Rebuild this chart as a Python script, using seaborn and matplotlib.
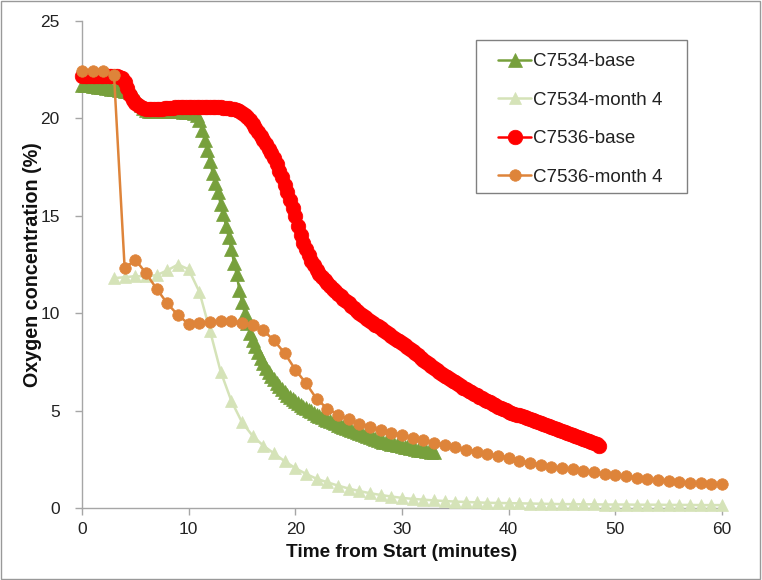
import numpy as np
import seaborn as sns
import matplotlib.pyplot as plt
from matplotlib.patches import Rectangle

# base runs logged every 15 s, month-4 runs every minute
step_fast = 0.25

c7534_base = [
    21.7, 21.7, 21.7, 21.7,
    21.65, 21.65, 21.6, 21.6,
    21.6, 21.55, 21.55, 21.5,
    21.5, 21.5, 21.45, 21.45,
    21.4, 21.4, 21.35, 21.3,
    21.1, 20.9, 20.7, 20.55,
    20.45, 20.4, 20.4, 20.4,
    20.4, 20.4, 20.4, 20.4,
    20.4, 20.4, 20.4, 20.4,
    20.4, 20.4, 20.35, 20.35,
    20.35, 20.35, 20.3, 20.2,
    19.9, 19.4, 18.9, 18.4,
    17.8, 17.2, 16.7, 16.2,
    15.6, 15.1, 14.5, 13.9,
    13.3, 12.6, 12.0, 11.2,
    10.6, 10.0, 9.5, 9.0,
    8.6, 8.3, 8.0, 7.7,
    7.45, 7.2, 7.0, 6.8,
    6.6, 6.4, 6.25, 6.1,
    5.95, 5.8, 5.7, 5.6,
    5.5, 5.4, 5.3, 5.2,
    5.12, 5.04, 4.96, 4.88,
    4.8, 4.73, 4.66, 4.59,
    4.52, 4.46, 4.4, 4.34,
    4.28, 4.22, 4.16, 4.1,
    4.05, 4.0, 3.95, 3.9,
    3.85, 3.8, 3.75, 3.7,
    3.64, 3.6, 3.55, 3.5,
    3.45, 3.41, 3.37, 3.33,
    3.3, 3.27, 3.24, 3.21,
    3.18, 3.15, 3.12, 3.09,
    3.06, 3.03, 3.0, 2.98,
    2.96, 2.94, 2.92, 2.9,
    2.88,
]

c7536_base = [
    22.2, 22.2, 22.2, 22.2,
    22.2, 22.2, 22.2, 22.2,
    22.2, 22.2, 22.2, 22.2,
    22.2, 22.2, 22.15, 22.05,
    21.85, 21.55, 21.2, 20.95,
    20.8, 20.7, 20.6, 20.55,
    20.5, 20.5, 20.5, 20.5,
    20.5, 20.5, 20.5, 20.55,
    20.55, 20.55, 20.55, 20.6,
    20.6, 20.6, 20.6, 20.6,
    20.6, 20.6, 20.6, 20.6,
    20.6, 20.6, 20.6, 20.6,
    20.6, 20.6, 20.6, 20.6,
    20.6, 20.55, 20.55, 20.55,
    20.5, 20.5, 20.45, 20.4,
    20.3, 20.2, 20.05, 19.9,
    19.7, 19.5, 19.3, 19.1,
    18.9, 18.7, 18.45, 18.2,
    17.95, 17.65, 17.3, 17.0,
    16.6, 16.2, 15.8, 15.4,
    15.0, 14.5, 14.0, 13.6,
    13.3, 13.0, 12.7, 12.45,
    12.2, 12.0, 11.85, 11.7,
    11.55, 11.4, 11.25, 11.12,
    11.0, 10.88, 10.75, 10.62,
    10.5, 10.38, 10.25, 10.12,
    10.0, 9.9, 9.8, 9.7,
    9.6, 9.5, 9.42, 9.34,
    9.25, 9.15, 9.05, 8.95,
    8.85, 8.75, 8.65, 8.55,
    8.45, 8.35, 8.25, 8.15,
    8.05, 7.94, 7.83, 7.72,
    7.6, 7.5, 7.4, 7.3,
    7.2, 7.1, 7.0, 6.9,
    6.8, 6.71, 6.62, 6.53,
    6.45, 6.36, 6.27, 6.18,
    6.1, 6.02, 5.95, 5.87,
    5.8, 5.72, 5.65, 5.57,
    5.5, 5.42, 5.35, 5.27,
    5.2, 5.14, 5.08, 5.01,
    4.95, 4.9, 4.85, 4.8,
    4.75, 4.7, 4.65, 4.6,
    4.55, 4.5, 4.45, 4.4,
    4.35, 4.3, 4.25, 4.2,
    4.15, 4.1, 4.05, 4.0,
    3.95, 3.9, 3.85, 3.8,
    3.75, 3.7, 3.65, 3.6,
    3.55, 3.5, 3.45, 3.4,
    3.35, 3.28, 3.2,
]

# month 4 of C7534 starts at minute 3
c7534_m4_start = 3
c7534_m4 = [
    11.8, 11.85, 11.9, 11.9, 11.95, 12.2, 12.5, 12.25, 11.1, 9.1,
    7.0, 5.5, 4.4, 3.7, 3.2, 2.8, 2.4, 2.05, 1.75, 1.5,
    1.32, 1.15, 1.0, 0.87, 0.76, 0.67, 0.59, 0.52, 0.47, 0.43,
    0.39, 0.36, 0.33, 0.31, 0.29, 0.27, 0.26, 0.25, 0.24, 0.23,
    0.22, 0.21, 0.2, 0.2, 0.19, 0.19, 0.18, 0.18, 0.18, 0.17,
    0.17, 0.17, 0.16, 0.16, 0.16, 0.15, 0.15, 0.15,
]

c7536_m4 = [
    22.45, 22.45, 22.45, 22.25, 12.3, 12.75, 12.05, 11.25, 10.5, 9.9,
    9.45, 9.5, 9.55, 9.6, 9.58, 9.5, 9.38, 9.12, 8.6, 7.95,
    7.1, 6.4, 5.6, 5.1, 4.8, 4.55, 4.33, 4.15, 3.99, 3.84,
    3.73, 3.6, 3.48, 3.36, 3.24, 3.12, 3.0, 2.9, 2.78, 2.67,
    2.56, 2.43, 2.32, 2.22, 2.13, 2.05, 1.98, 1.92, 1.84, 1.76,
    1.69, 1.62, 1.56, 1.5, 1.45, 1.4, 1.35, 1.3, 1.27, 1.24,
    1.21,
]

t_7534_base = np.arange(len(c7534_base)) * step_fast
t_7536_base = np.arange(len(c7536_base)) * step_fast
t_7534_m4 = np.arange(len(c7534_m4)) + c7534_m4_start
t_7536_m4 = np.arange(len(c7536_m4))

sns.set_style('white')
plt.rcParams['font.family'] = ['Liberation Sans', 'DejaVu Sans']

fig = plt.figure(figsize=(7.62, 5.8), dpi=100)
ax = fig.add_axes([0.1076, 0.1241, 0.84, 0.8397])

series = [
    (t_7534_base, c7534_base, 'C7534-base', '#77A03C', '^', 9.5),
    (t_7534_m4, c7534_m4, 'C7534-month 4', '#D5E3B8', '^', 8.0),
    (t_7536_base, c7536_base, 'C7536-base', '#FF0000', 'o', 10.5),
    (t_7536_m4, c7536_m4, 'C7536-month 4', '#DE843A', 'o', 8.3),
]
for i, (t, v, name, c, m, ms) in enumerate(series):
    sns.lineplot(x=t, y=v, ax=ax, color=c, marker=m, markersize=ms,
                 markeredgecolor=c, markeredgewidth=0.5, linewidth=1.8,
                 label=name, errorbar=None, clip_on=False, zorder=3 + i)

ax.set_xlim(0, 60)
ax.set_ylim(0, 25)
ax.set_xticks(range(0, 61, 10))
ax.set_yticks(range(0, 26, 5))
for s in ['top', 'right']:
    ax.spines[s].set_visible(False)
for s in ['left', 'bottom']:
    ax.spines[s].set_color('#A6A6A6')
    ax.spines[s].set_linewidth(1.0)
ax.tick_params(axis='both', bottom=True, left=True, direction='out',
               length=5, width=1, color='#A6A6A6', labelsize=12.5,
               labelcolor='#222222')
ax.tick_params(axis='x', pad=5)
ax.tick_params(axis='y', pad=11)

ax.set_xlabel('Time from Start (minutes)', fontsize=13.7, fontweight='bold',
              color='#111111', labelpad=5)
ax.set_ylabel('Oxygen concentration (%)', fontsize=14.2, fontweight='bold',
              color='#111111', labelpad=-1)

# legend without frame, box drawn separately
leg = ax.legend(loc='upper left', bbox_to_anchor=(498 / 762, 1 - 53 / 580),
                bbox_transform=fig.transFigure, frameon=False, fontsize=13.5,
                handlelength=1.76, handletextpad=0.1, labelspacing=1.14,
                borderpad=0, borderaxespad=0)
for txt in leg.get_texts():
    txt.set_color('#222222')
fig.patches.append(Rectangle((476 / 762, 1 - 193 / 580), 211 / 762, 153 / 580,
                             transform=fig.transFigure, fill=False,
                             edgecolor='#808080', linewidth=1.0))
fig.patches.append(Rectangle((0.001, 0.001), 0.997, 0.997,
                             transform=fig.transFigure, fill=False,
                             edgecolor='#999999', linewidth=1.0))

fig.savefig('out.png', dpi=100)
